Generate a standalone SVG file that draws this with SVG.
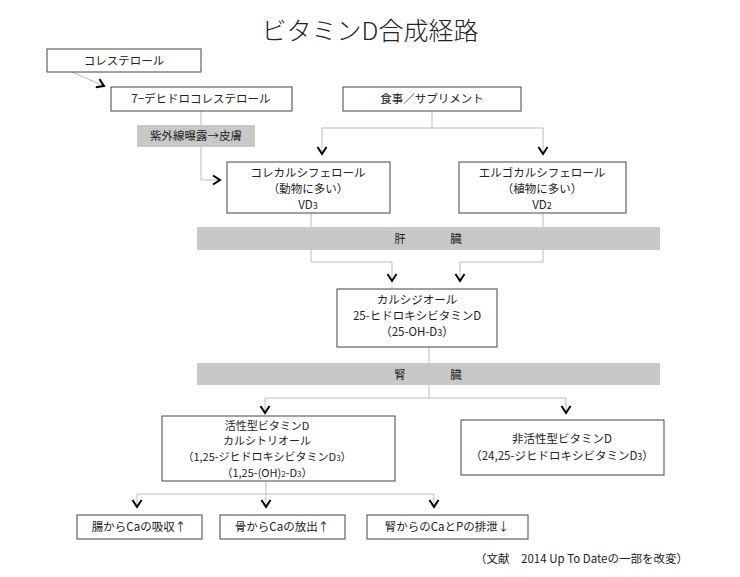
<svg xmlns="http://www.w3.org/2000/svg" width="740" height="577" viewBox="0 0 740 577">
<style>
text{font-family:"Noto Sans CJK JP","Liberation Sans",sans-serif;fill:#222;font-size:11.5px;text-anchor:middle}
.s{font-size:11px}
.b{fill:#fff;stroke:#444;stroke-width:1}
.g{fill:#c8c8c8}
.l{fill:none;stroke:#bbb;stroke-width:1}
</style>
<defs><marker id="m" markerWidth="12" markerHeight="12" refX="8" refY="6" orient="auto" markerUnits="userSpaceOnUse"><path d="M1,1.5 L8,6 L1,10.5" fill="none" stroke="#000" stroke-width="2"/></marker></defs>
<rect width="740" height="577" fill="#fff"/>
<text x="370" y="40" style="font-size:25px;font-weight:300">ビタミンD合成経路</text>
<g id="connectors">
<path class="l" d="M72,72 L104,86" marker-end="url(#m)"/>
<path class="l" d="M201,111 V180 H220" marker-end="url(#m)"/>
<path class="l" d="M432,111 V128 M322,128 H543"/>
<path class="l" d="M322,128 V154" marker-end="url(#m)"/>
<path class="l" d="M543,128 V154" marker-end="url(#m)"/>
<path class="l" d="M311,213 V262 H392 V281" marker-end="url(#m)"/>
<path class="l" d="M543,213 V262 H460 V281" marker-end="url(#m)"/>
<path class="l" d="M429,347 V398 M265,398 H566"/>
<path class="l" d="M265,398 V413" marker-end="url(#m)"/>
<path class="l" d="M566,398 V413" marker-end="url(#m)"/>
<path class="l" d="M266,481 V494 M137,494 H434"/>
<path class="l" d="M137,494 V507" marker-end="url(#m)"/>
<path class="l" d="M266,494 V507" marker-end="url(#m)"/>
<path class="l" d="M434,494 V507" marker-end="url(#m)"/>
</g>
<g id="band-liver"><rect class="g" x="197" y="227" width="463" height="23"/><text x="400" y="243">肝</text><text x="456" y="243">臓</text></g>
<g id="band-kidney"><rect class="g" x="197" y="363" width="463" height="22"/><text x="400" y="379">腎</text><text x="456" y="379">臓</text></g>
<g id="uv"><rect class="g" x="137" y="125" width="118" height="22"/><text x="196" y="140">紫外線曝露→皮膚</text></g>
<g id="n1"><rect class="b" x="47" y="49" width="154" height="23"/><text x="124" y="65">コレステロール</text></g>
<g id="n2"><rect class="b" x="111" y="87" width="181" height="24"/><text x="201" y="103">7−デヒドロコレステロール</text></g>
<g id="n3"><rect class="b" x="343" y="87" width="178" height="24"/><text x="432" y="103">食事／サプリメント</text></g>
<g id="n4"><rect class="b" x="227" y="162" width="163" height="51"/><text x="308" y="177">コレカルシフェロール</text><text x="308" y="193">（動物に多い）</text><text x="308" y="209">VD<tspan style="font-size:9px">3</tspan></text></g>
<g id="n5"><rect class="b" x="459" y="162" width="167" height="51"/><text x="542" y="177">エルゴカルシフェロール</text><text x="542" y="193">（植物に多い）</text><text x="542" y="209">VD<tspan style="font-size:9px">2</tspan></text></g>
<g id="n6"><rect class="b" x="337" y="289" width="160" height="58"/><text x="417" y="304">カルシジオール</text><text x="417" y="320">25-ヒドロキシビタミンD</text><text x="417" y="336">（25-OH-D<tspan style="font-size:9px">3</tspan>）</text></g>
<g id="n7"><rect class="b" x="162" y="416" width="233" height="65"/><text class="s" x="267" y="430">活性型ビタミンD</text><text class="s" x="267" y="445">カルシトリオール</text><text class="s" x="267" y="461">（1,25-ジヒドロキシビタミンD<tspan style="font-size:8px">3</tspan>）</text><text class="s" x="267" y="477">（1,25-(OH)<tspan style="font-size:8px">2</tspan>-D<tspan style="font-size:8px">3</tspan>）</text></g>
<g id="n8"><rect class="b" x="461" y="420" width="203" height="55"/><text x="562" y="443">非活性型ビタミンD</text><text x="562" y="460">（24,25-ジヒドロキシビタミンD<tspan style="font-size:9px">3</tspan>）</text></g>
<g id="n9"><rect class="b" x="77" y="515" width="125" height="24"/><text x="139" y="531">腸からCaの吸収↑</text></g>
<g id="n10"><rect class="b" x="220" y="515" width="125" height="24"/><text x="282" y="531">骨からCaの放出↑</text></g>
<g id="n11"><rect class="b" x="367" y="515" width="161" height="24"/><text x="447" y="531">腎からのCaとPの排泄↓</text></g>
<text x="688" y="563" style="text-anchor:end">（文献　2014 Up To Dateの一部を改変）</text>
</svg>
